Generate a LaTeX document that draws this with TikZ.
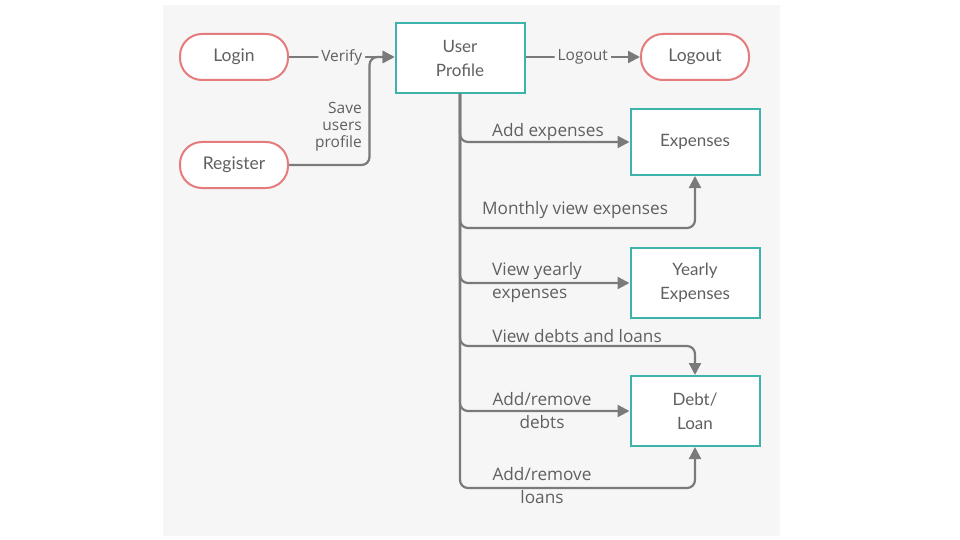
\documentclass[tikz,border=0pt]{standalone}
\usepackage{fontspec}
\setmainfont{Lato}
\newfontfamily\lblfont{Open Sans}
\usetikzlibrary{arrows.meta,calc}

\definecolor{panel}{HTML}{F6F6F6}
\definecolor{teal}{HTML}{3DB3AB}
\definecolor{salmon}{HTML}{E57B7B}
\definecolor{wire}{HTML}{7A7A7A}
\definecolor{ink}{HTML}{606060}

\begin{document}
\begin{tikzpicture}[x=1pt,y=-1pt,
    endpoint/.style={draw=salmon, line width=2pt, fill=white, rounded corners=22pt,
        minimum width=108pt, minimum height=46pt, text=ink, font=\fontsize{17.5}{20}\selectfont},
    screen/.style={draw=teal, line width=2pt, fill=white, minimum width=129pt,
        minimum height=66pt, text=ink, align=center, font=\fontsize{17}{24}\selectfont},
    lbl/.style={text=ink, font=\lblfont\fontsize{17.2}{23}\selectfont, inner sep=1pt},
    flow/.style={draw=wire, line width=2.2pt, rounded corners=8pt,
        -{Triangle[length=12pt,width=12pt]}}]

    \useasboundingbox (0,0) rectangle (960,540);
    \fill [panel] (163,5) rectangle (780,536);

    % boxes
    \node [endpoint] (login) at (234,57) {Login};
    \node [endpoint] (register) at (234,165) {Register};
    \node [endpoint] (logout) at (695,57) {Logout};
    \node [screen, minimum height=70pt] (profile) at (460,58) {User\\Profile};
    \node [screen] (expenses) at (695,142) {Expenses};
    \node [screen, minimum height=70pt] (yearly) at (695,283) {Yearly\\Expenses};
    \node [screen, minimum height=70pt] (debt) at (695,411) {Debt/\\Loan};

    % top row
    \draw [flow] (login) -- node [lbl, fill=panel, inner sep=3pt, font=\lblfont\fontsize{15.5}{18}\selectfont] (verify) {Verify} (profile.west |- login);
    \draw [flow] (register.east) -| ($(profile.west |- login)+(-25,0)$) -- (profile.west |- login);
    \node [lbl, align=right, anchor=east, font=\lblfont\fontsize{15.5}{17}\selectfont] (save) at (363,127) {Save\\users\\profile};
    \draw [flow] (profile.east |- logout) -- node [lbl, fill=panel, inner sep=3pt, font=\lblfont\fontsize{15.5}{18}\selectfont] (logoutlbl) {Logout} (logout);

    % branches from the profile
    \draw [flow] (profile.south) |- (expenses.west);
    \node [lbl] (addexp) at (548,132) {Add expenses};

    \draw [flow] (profile.south) |- ($(expenses.south)+(0,52)$) -- (expenses.south);
    \node [lbl] (monthly) at (575,210) {Monthly view expenses};

    \draw [flow] (profile.south) |- (yearly.west);
    \node [lbl, align=left, anchor=west] (viewyear) at (491,283) {View yearly\\expenses};

    \draw [flow] (profile.south) |- ($(debt.north)+(0,-29)$) -- (debt.north);
    \node [lbl] (viewdebt) at (577,336) {View debts and loans};

    \draw [flow] (profile.south) |- (debt.west);
    \node [lbl, align=center] (adddebt) at (542,411) {Add/remove\\debts};

    \draw [flow] (profile.south) |- ($(debt.south)+(0,41)$) -- (debt.south);
    \node [lbl, align=center] (addloan) at (542,486) {Add/remove\\loans};

\end{tikzpicture}
\end{document}
